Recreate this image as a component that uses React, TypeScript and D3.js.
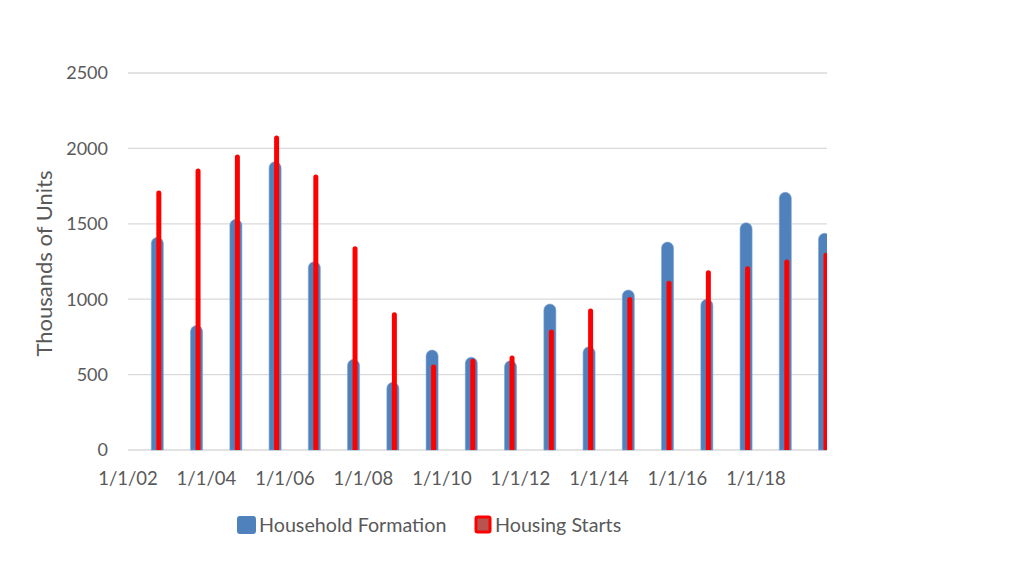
import { useRef, useEffect } from 'react';
import * as d3 from 'd3';

// yearly observations, plotted at Oct 1 of each year
const years = [2002, 2003, 2004, 2005, 2006, 2007, 2008, 2009, 2010, 2011, 2012, 2013, 2014, 2015, 2016, 2017, 2018, 2019];
const householdFormation = [1410, 825, 1530, 1912, 1249, 601, 449, 663, 615, 592, 968, 685, 1061, 1379, 999, 1507, 1709, 1437];
const housingStarts = [1717, 1863, 1956, 2082, 1824, 1348, 910, 564, 601, 623, 796, 935, 1012, 1119, 1189, 1216, 1260, 1304];
const yTicks = [0, 500, 1000, 1500, 2000, 2500];
const tickYears = [2002, 2004, 2006, 2008, 2010, 2012, 2014, 2016, 2018];

const W = 1024;
const H = 578;
const FONT = 'Lato, "Open Sans", sans-serif';
const TEXT = '#595959';
const BLUE = '#4F81BD';
const RED = '#FF0000';

export default function App() {
  const svgRef = useRef<SVGSVGElement>(null);

  useEffect(() => {
    if (!svgRef.current) return;
    const svg = d3.select(svgRef.current);
    svg.selectAll('*').remove();

    const left = 128, right = 827, top = 73, bottom = 450;

    const x = d3.scaleTime()
      .domain([new Date(2002, 0, 1), new Date(2019, 9, 24)])
      .range([left, right]);
    const y = d3.scaleLinear().domain([0, 2500]).range([bottom, top]);

    const rows = years.map((yr, i) => ({
      date: new Date(yr, 9, 1),
      hf: householdFormation[i],
      hs: housingStarts[i],
    }));

    svg.append('defs').append('clipPath').attr('id', 'plot')
      .append('rect').attr('x', left).attr('y', 0).attr('width', right - left).attr('height', bottom + 1);

    // gridlines
    svg.append('g').selectAll('line').data(yTicks).join('line')
      .attr('x1', left).attr('x2', right)
      .attr('y1', (d) => y(d)).attr('y2', (d) => y(d))
      .attr('stroke', '#d9d9d9').attr('stroke-width', 1.3);

    // y tick labels
    svg.append('g').selectAll('text').data(yTicks).join('text')
      .attr('x', 108).attr('y', (d) => y(d)).attr('dy', '0.36em')
      .attr('text-anchor', 'end').attr('font-family', FONT).attr('font-size', 18)
      .attr('fill', TEXT).text((d) => String(d));

    // x tick labels
    const fmt = d3.timeFormat('%-m/%-d/%y');
    svg.append('g').selectAll('text').data(tickYears.map((yr) => new Date(yr, 0, 1))).join('text')
      .attr('x', (d) => x(d)).attr('y', 485)
      .attr('text-anchor', 'middle').attr('font-family', FONT).attr('font-size', 18.5)
      .attr('fill', TEXT).text((d) => fmt(d));

    const bars = svg.append('g').attr('clip-path', 'url(#plot)');

    // Household Formation: wide bars with rounded tops
    const bw = 12, br = 6;
    bars.selectAll('path.hf').data(rows).join('path')
      .attr('class', 'hf')
      .attr('d', (d) => {
        const cx = x(d.date), t = y(d.hf);
        return `M${cx - bw / 2},${bottom} V${t + br} A${br},${br} 0 0 1 ${cx + bw / 2},${t + br} V${bottom} Z`;
      })
      .attr('fill', BLUE).attr('stroke', '#7ea3d0').attr('stroke-width', 0.6);

    // Housing Starts: thin red bars
    const rw = 5, rr = 2;
    bars.selectAll('path.hs').data(rows).join('path')
      .attr('class', 'hs')
      .attr('d', (d) => {
        const cx = x(d.date) + 1.5, t = y(d.hs);
        return `M${cx - rw / 2},${bottom} V${t + rr} A${rr},${rr} 0 0 1 ${cx + rw / 2},${t + rr} V${bottom} Z`;
      })
      .attr('fill', RED);

    // axis title
    svg.append('text')
      .attr('transform', `translate(52,${(top + bottom) / 2 + 2}) rotate(-90)`)
      .attr('text-anchor', 'middle').attr('font-family', FONT).attr('font-size', 22)
      .attr('fill', TEXT).text('Thousands of Units');

    // legend
    const lg = svg.append('g');
    lg.append('rect').attr('x', 237).attr('y', 516).attr('width', 19).attr('height', 18).attr('rx', 3)
      .attr('fill', BLUE);
    lg.append('text').attr('x', 259).attr('y', 532).attr('font-family', FONT).attr('font-size', 19.7)
      .attr('fill', TEXT).text('Household Formation');
    lg.append('rect').attr('x', 476).attr('y', 517).attr('width', 14).attr('height', 15).attr('rx', 1.5)
      .attr('fill', '#b85450').attr('stroke', RED).attr('stroke-width', 3);
    lg.append('text').attr('x', 495).attr('y', 532).attr('font-family', FONT).attr('font-size', 19.7)
      .attr('fill', TEXT).text('Housing Starts');
  }, []);

  return (
    <svg ref={svgRef} width={W} height={H}
      style={{ position: 'absolute', left: 0, top: 0, background: '#fff' }} />
  );
}
